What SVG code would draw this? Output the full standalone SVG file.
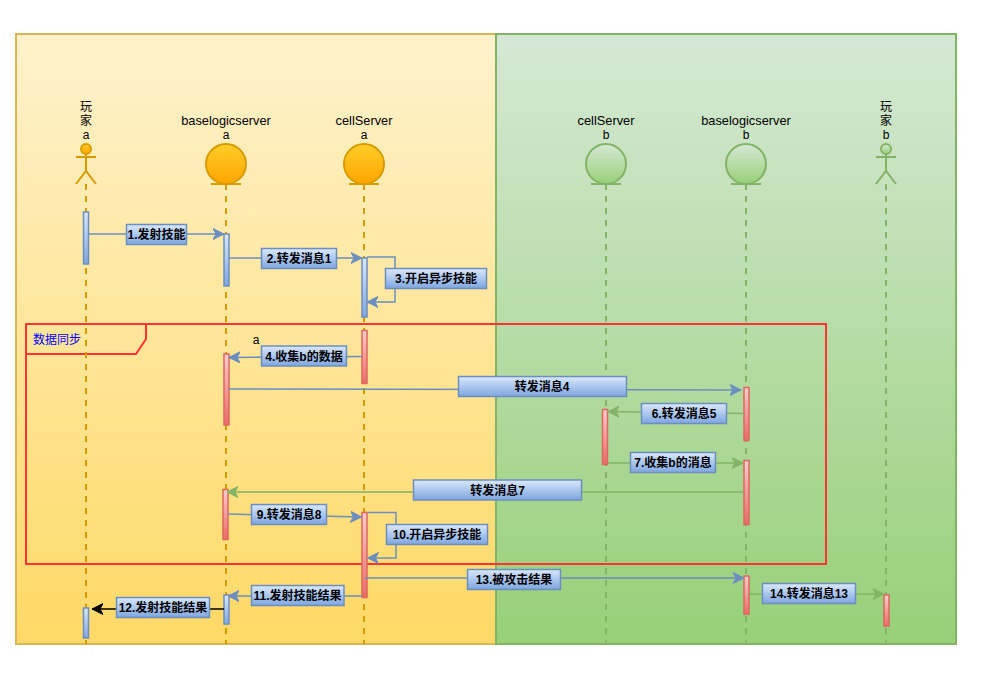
<svg xmlns="http://www.w3.org/2000/svg" width="1004" height="694" viewBox="0 0 1004 694">
<style>
text{font-family:"Liberation Sans","Noto Sans CJK SC",sans-serif;font-size:12px;text-anchor:middle;fill:#000}
.h{font-size:12.8px}
.l{font-weight:700}
.f{font-weight:400;fill:#00f}
.act-b{fill:url(#gb);stroke:#6c8ebf;stroke-width:1.5}
.act-r{fill:url(#gr);stroke:#e06660;stroke-width:1.5}
.lab{fill:url(#gb);stroke:#6c8ebf;stroke-width:1.5}
.ll-o{stroke:#d79b00;stroke-width:2;stroke-dasharray:6 6;fill:none}
.ll-g{stroke:#82b366;stroke-width:2;stroke-dasharray:6 6;fill:none}
.o{stroke:#d79b00;stroke-width:2;fill:none}
.g{stroke:#82b366;stroke-width:2;fill:none}
.cb{stroke:#6c8ebf;stroke-width:1.5;fill:none;marker-end:url(#mb)}
.cg{stroke:#82b366;stroke-width:1.5;fill:none;marker-end:url(#mg)}
.ck{stroke:#000;stroke-width:1.5;fill:none;marker-end:url(#mk)}
</style>
<defs>
<linearGradient id="gy" x1="0" y1="0" x2="0" y2="1"><stop offset="0" stop-color="#fff2cc"/><stop offset="1" stop-color="#ffd966"/></linearGradient>
<linearGradient id="gg" x1="0" y1="0" x2="0" y2="1"><stop offset="0" stop-color="#d5e8d4"/><stop offset="1" stop-color="#97d077"/></linearGradient>
<linearGradient id="go" x1="0" y1="0" x2="0" y2="1"><stop offset="0" stop-color="#ffcd28"/><stop offset="1" stop-color="#ffa500"/></linearGradient>
<linearGradient id="gb" x1="0" y1="0" x2="0" y2="1"><stop offset="0" stop-color="#dae8fc"/><stop offset="1" stop-color="#7ea6e0"/></linearGradient>
<linearGradient id="gr" x1="0" y1="0" x2="0" y2="1"><stop offset="0" stop-color="#f8cecc"/><stop offset="1" stop-color="#ea6b66"/></linearGradient>
<marker id="mb" markerUnits="userSpaceOnUse" markerWidth="14" markerHeight="14" refX="11" refY="6" orient="auto"><path d="M0,.5 L11,6 L0,11.5 L3,6 Z" fill="#6c8ebf" stroke="#6c8ebf"/></marker>
<marker id="mg" markerUnits="userSpaceOnUse" markerWidth="14" markerHeight="14" refX="11" refY="6" orient="auto"><path d="M0,.5 L11,6 L0,11.5 L3,6 Z" fill="#82b366" stroke="#82b366"/></marker>
<marker id="mk" markerUnits="userSpaceOnUse" markerWidth="14" markerHeight="14" refX="11" refY="6" orient="auto"><path d="M0,.5 L11,6 L0,11.5 L3,6 Z" fill="#000" stroke="#000"/></marker>
</defs>
<rect width="1004" height="694" fill="#fff"/>
<g id="lane-a"><rect x="16" y="34" width="480" height="610" fill="url(#gy)" stroke="#d6b656" stroke-width="2"/></g>
<g id="lane-b"><rect x="496" y="34" width="460" height="610" fill="url(#gg)" stroke="#82b366" stroke-width="2"/></g>
<g id="frame">
<rect x="26" y="324" width="800" height="240" fill="none" stroke="#ff3333" stroke-width="2"/>
<path d="M26,354 H136 L146,339 V324" fill="none" stroke="#ff3333" stroke-width="2"/>
<text x="57" y="344" class="f">数据同步</text>
</g>
<g id="player-a">
<text x="86" y="111">玩</text><text x="86" y="125">家</text><text x="86" y="139">a</text>
<circle cx="86" cy="149" r="5" fill="url(#go)" stroke="#d79b00" stroke-width="2"/>
<path class="o" d="M76,157 H96 M86,154 V171 M76,184 L86,171 L96,184"/>
<path class="ll-o" d="M86,184 V644"/>
<rect class="act-b" x="83.5" y="212" width="5" height="52"/>
<rect class="act-b" x="83.5" y="608" width="5" height="30"/>
</g>
<g id="base-a">
<text x="226" y="125" class="h">baselogicserver</text><text x="226" y="139">a</text>
<circle cx="226" cy="164" r="20" fill="url(#go)" stroke="#d79b00" stroke-width="2"/>
<path class="o" d="M211,184 H241"/>
<path class="ll-o" d="M226,184 V644"/>
<rect class="act-b" x="224" y="234" width="5" height="52"/>
<rect class="act-r" x="224" y="354" width="5" height="71"/>
<rect class="act-r" x="223" y="489.500" width="5" height="50"/>
<rect class="act-b" x="224" y="595" width="5" height="29"/>
</g>
<g id="cell-a">
<text x="364" y="125" class="h">cellServer</text><text x="364" y="139">a</text>
<circle cx="364" cy="164" r="20" fill="url(#go)" stroke="#d79b00" stroke-width="2"/>
<path class="o" d="M349,184 H379"/>
<path class="ll-o" d="M364,184 V644"/>
<rect class="act-b" x="362" y="258" width="5" height="59"/>
<rect class="act-r" x="362" y="330.500" width="5" height="53"/>
<rect class="act-r" x="362" y="512.500" width="5" height="85"/>
</g>
<g id="cell-b">
<text x="606" y="125" class="h">cellServer</text><text x="606" y="139">b</text>
<circle cx="606" cy="164" r="20" fill="url(#gg)" stroke="#82b366" stroke-width="2"/>
<path class="g" d="M591,184 H621"/>
<path class="ll-g" d="M606,184 V644"/>
<rect class="act-r" x="602.500" y="409.500" width="5" height="55"/>
</g>
<g id="base-b">
<text x="746" y="125" class="h">baselogicserver</text><text x="746" y="139">b</text>
<circle cx="746" cy="164" r="20" fill="url(#gg)" stroke="#82b366" stroke-width="2"/>
<path class="g" d="M731,184 H761"/>
<path class="ll-g" d="M746,184 V644"/>
<rect class="act-r" x="744" y="387.500" width="5" height="53"/>
<rect class="act-r" x="744" y="460.500" width="5" height="64"/>
<rect class="act-r" x="744" y="576" width="5" height="38"/>
</g>
<g id="player-b">
<text x="886" y="111">玩</text><text x="886" y="125">家</text><text x="886" y="139">b</text>
<circle cx="886" cy="149" r="5" fill="url(#gg)" stroke="#82b366" stroke-width="2"/>
<path class="g" d="M876,157 H896 M886,154 V171 M876,184 L886,171 L896,184"/>
<path class="ll-g" d="M886,184 V644"/>
<rect class="act-r" x="884" y="595" width="5" height="31"/>
</g>
<g id="connectors">
<path class="cb" d="M89,234 H224"/>
<path class="cb" d="M229,258 H362"/>
<path class="cb" d="M367,257 H395 V302 H367"/>
<path class="cb" d="M362,356.500 L229,357.500"/>
<path class="cb" d="M229,389 L741,390"/>
<path class="cg" d="M744,413.500 L608,411.500"/>
<path class="cg" d="M608,463 H743"/>
<path class="cg" d="M744,492 H227"/>
<path class="cb" d="M228,514 L361.500,517"/>
<path class="cb" d="M367.500,512.500 H396 V558 H367.500"/>
<path class="cb" d="M365,578 H744"/>
<path class="cb" d="M362,596 H228"/>
<path class="ck" d="M224,609 H92"/>
<path class="cg" d="M749,594 H884"/>
<rect class="lab" x="126.500" y="224.500" width="60" height="20"/><text x="156.500" y="239" class="l">1.发射技能</text>
<rect class="lab" x="261.500" y="248.500" width="75" height="20"/><text x="299" y="263" class="l">2.转发消息1</text>
<rect class="lab" x="385.500" y="268.500" width="101" height="20"/><text x="436" y="283" class="l">3.开启异步技能</text>
<text x="256" y="344">a</text>
<rect class="lab" x="261.500" y="346" width="85" height="20"/><text x="304" y="360.500" class="l">4.收集b的数据</text>
<rect class="lab" x="458.500" y="376.500" width="168" height="20"/><text x="542" y="391" class="l">转发消息4</text>
<rect class="lab" x="641.500" y="403.500" width="85" height="20"/><text x="684" y="418" class="l">6.转发消息5</text>
<rect class="lab" x="630.500" y="452.500" width="85" height="20"/><text x="673" y="467" class="l">7.收集b的消息</text>
<rect class="lab" x="413.500" y="480" width="168" height="20"/><text x="497.500" y="495" class="l">转发消息7</text>
<rect class="lab" x="251.500" y="504.500" width="75" height="20"/><text x="289" y="519" class="l">9.转发消息8</text>
<rect class="lab" x="386.500" y="524.500" width="101" height="20"/><text x="437" y="539" class="l">10.开启异步技能</text>
<rect class="lab" x="467.500" y="569.500" width="93" height="20"/><text x="514" y="584" class="l">13.被攻击结果</text>
<rect class="lab" x="251.500" y="585.500" width="92.500" height="20"/><text x="297.500" y="600" class="l">11.发射技能结果</text>
<rect class="lab" x="116.500" y="597.500" width="93" height="20"/><text x="163" y="612" class="l">12.发射技能结果</text>
<rect class="lab" x="762.500" y="583.500" width="93" height="20"/><text x="809" y="598" class="l">14.转发消息13</text>
</g>
</svg>
